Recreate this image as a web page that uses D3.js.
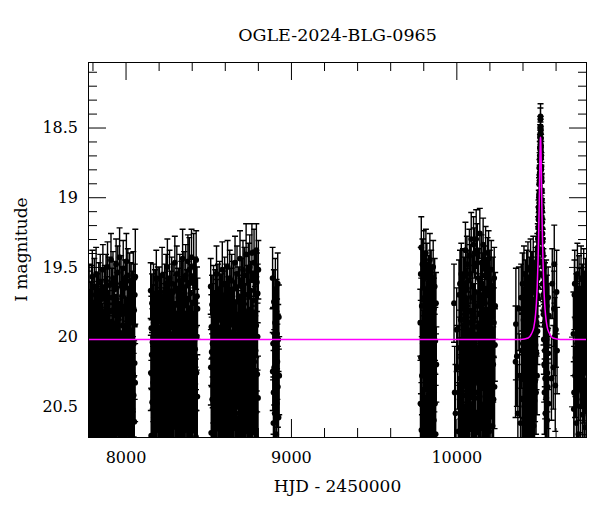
<!DOCTYPE html>
<html>
<head>
<meta charset="utf-8">
<script src="https://cdn.jsdelivr.net/npm/d3@7"></script>
<style>
  body { margin: 0; background: #fff; }
</style>
</head>
<body>
<div id="chart"></div>
<script>
// photometry: [HJD - 2450000, I mag, error]
var season1 = [[7774,20.12,.25],[7775,19.74,.21],[7777,20.48,.31],[7778,20.03,.24],[7780,19.68,.20],[7782,20.35,.28],[7783,20.86,.35],[7785,19.92,.23],[7786,20.21,.27],[7788,20.57,.32],
[7789,19.83,.22],[7791,20.15,.26],[7792,20.66,.33],[7794,19.70,.21],[7796,20.29,.28],[7797,20.01,.24],[7799,19.57,.19],[7800,20.43,.30],[7802,20.78,.35],[7803,19.97,.23],
[7805,20.09,.25],[7807,20.52,.31],[7808,19.79,.22],[7810,20.24,.27],[7811,19.64,.20],[7813,20.38,.29],[7814,20.93,.36],[7816,20.06,.24],[7818,19.88,.22],[7819,20.61,.33],
[7821,20.18,.26],[7822,19.55,.19],[7824,20.45,.30],[7825,19.95,.23],[7827,20.31,.28],[7829,20.73,.34],[7830,19.76,.21],[7832,20.13,.25],[7833,20.55,.32],[7835,19.86,.22],
[7836,20.27,.27],[7838,19.67,.20],[7840,20.02,.24],[7841,20.49,.31],[7843,20.84,.35],[7844,19.91,.23],[7846,20.20,.26],[7847,19.61,.20],[7849,20.40,.29],[7851,20.68,.33],
[7852,19.81,.22],[7854,20.11,.25],[7855,20.59,.32],[7857,19.73,.21],[7858,20.33,.28],[7860,19.99,.23],[7862,20.46,.30],[7863,19.52,.18],[7865,20.23,.27],[7866,20.80,.35],
[7868,20.05,.24],[7869,19.85,.22],[7871,20.37,.29],[7873,20.64,.33],[7874,19.69,.20],[7876,20.16,.26],[7877,20.51,.31],[7879,19.94,.23],[7880,20.28,.27],[7882,19.60,.19],
[7884,20.71,.34],[7885,20.08,.25],[7887,19.78,.21],[7888,20.42,.30],[7890,20.19,.26],[7891,19.50,.18],[7893,20.55,.32],[7895,19.89,.22],[7896,20.30,.28],[7898,20.89,.36],
[7899,19.96,.23],[7901,20.25,.27],[7902,19.63,.20],[7904,20.47,.31],[7906,20.04,.24],[7907,19.82,.22],[7909,20.62,.33],[7910,20.14,.26],[7912,19.45,.19],[7913,20.36,.29],
[7915,20.76,.35],[7917,19.72,.21],[7918,20.10,.25],[7920,20.53,.31],[7921,19.90,.23],[7923,20.22,.27],[7924,19.58,.19],[7926,20.44,.30],[7928,20.82,.35],[7929,20.00,.24],
[7931,19.80,.22],[7932,20.32,.28],[7934,20.60,.33],[7935,19.66,.20],[7937,20.17,.26],[7939,20.50,.31],[7940,19.93,.23],[7942,20.26,.27],[7943,19.48,.18],[7945,20.69,.34],
[7946,20.07,.24],[7948,19.75,.21],[7950,20.41,.30],[7951,20.20,.26],[7953,19.54,.19],[7954,20.57,.32],[7956,19.87,.22],[7957,20.34,.28],[7959,20.91,.36],[7961,19.98,.23],
[7962,20.13,.25],[7964,19.43,.21],[7965,20.46,.30],[7967,20.03,.24],[7968,19.84,.22],[7970,20.65,.33],[7972,20.23,.27],[7973,19.62,.20],[7975,20.39,.29],[7976,20.75,.35],
[7978,19.71,.21],[7979,20.09,.25],[7981,20.54,.31],[7983,19.92,.23],[7984,20.29,.28],[7986,19.51,.20],[7987,20.43,.30],[7989,20.85,.35],[7990,20.01,.24],[7992,19.79,.22],
[7994,20.31,.28],[7995,20.63,.33],[7997,19.65,.20],[7998,20.18,.26],[8000,20.48,.31],[8001,19.95,.23],[8003,20.24,.27],[8005,19.46,.20],[8006,20.70,.34],[8008,20.06,.24],
[8009,19.77,.21],[8011,20.40,.29],[8012,20.15,.26],[8014,19.56,.19],[8016,20.58,.32],[8017,19.86,.22],[8019,20.35,.28],[8020,20.88,.36],[8022,19.97,.23],[8023,20.12,.25],
[8025,19.60,.20],[8027,20.45,.30],[8028,20.04,.24],[8030,19.83,.22],[8031,20.66,.33],[8033,20.21,.27],[8034,19.68,.21],[8036,20.37,.29],[8038,20.79,.35],[8039,19.74,.21],
[8041,20.10,.25],[8042,20.52,.31],[8044,19.90,.23],[8045,20.27,.27],[8047,19.59,.20],[8049,20.42,.30],[8050,20.05,.24],[8052,19.81,.22],[8053,20.61,.33],[8055,20.19,.26],
[8056,19.70,.22],[8058,20.33,.28],[8059,19.57,.34]];

var season2 = [[8152,19.67,.20],[8153,20.26,.27],[8155,20.71,.34],[8156,19.94,.23],[8158,20.13,.25],[8160,19.76,.21],[8161,20.47,.30],[8163,20.04,.24],[8164,20.88,.36],[8166,19.85,.22],
[8167,20.33,.28],[8169,19.69,.21],[8171,20.58,.32],[8172,20.17,.26],[8174,19.91,.23],[8175,20.40,.29],[8177,20.79,.35],[8178,19.73,.21],[8180,20.09,.25],[8182,20.52,.31],
[8183,19.98,.23],[8185,20.23,.27],[8186,19.58,.20],[8188,20.44,.30],[8190,20.67,.34],[8191,19.82,.22],[8193,20.15,.26],[8194,20.36,.29],[8196,19.71,.21],[8197,20.02,.24],
[8199,20.61,.33],[8201,19.89,.22],[8202,20.28,.27],[8204,20.84,.35],[8205,19.70,.20],[8207,20.19,.26],[8209,20.49,.31],[8210,19.96,.23],[8212,20.07,.25],[8213,19.78,.21],
[8215,20.38,.29],[8217,20.73,.34],[8218,19.87,.22],[8220,20.25,.27],[8221,19.56,.20],[8223,20.55,.32],[8225,20.11,.25],[8226,19.93,.23],[8228,20.42,.30],[8229,20.90,.36],
[8231,19.75,.21],[8232,20.03,.24],[8234,20.31,.28],[8236,19.68,.20],[8237,20.63,.33],[8239,20.16,.26],[8240,19.84,.22],[8242,20.46,.30],[8244,20.00,.24],[8245,19.62,.21],
[8247,20.76,.35],[8248,20.21,.27],[8250,19.92,.23],[8252,20.35,.28],[8253,19.50,.20],[8255,20.53,.32],[8256,20.08,.25],[8258,19.80,.22],[8259,20.41,.30],[8261,20.69,.34],
[8263,19.97,.23],[8264,20.14,.26],[8266,19.58,.20],[8267,20.29,.28],[8269,20.86,.35],[8271,19.88,.22],[8272,20.05,.24],[8274,20.57,.32],[8275,19.74,.21],[8277,20.24,.27],
[8279,19.62,.19],[8280,20.43,.30],[8282,20.12,.25],[8283,19.90,.23],[8285,20.65,.33],[8286,20.32,.28],[8288,19.68,.20],[8290,20.01,.24],[8291,20.50,.31],[8293,20.81,.35],
[8294,19.83,.22],[8296,20.18,.26],[8298,19.47,.19],[8299,20.37,.29],[8301,19.99,.23],[8302,20.60,.33],[8304,20.10,.25],[8305,19.77,.21],[8307,20.45,.30],[8309,20.27,.27],
[8310,19.55,.20],[8312,20.92,.36],[8313,20.06,.24],[8315,19.86,.22],[8316,20.39,.29],[8318,20.70,.34],[8320,19.72,.21],[8321,20.20,.26],[8323,20.54,.32],[8324,19.95,.23],
[8326,20.13,.25],[8328,19.60,.19],[8329,20.34,.28],[8331,20.78,.35],[8332,19.81,.22],[8334,20.03,.24],[8335,20.48,.31],[8337,19.66,.20],[8339,20.22,.27],[8340,20.62,.33],
[8342,19.91,.23],[8343,20.09,.25],[8345,19.44,.21],[8347,20.42,.30],[8348,20.85,.35],[8350,19.78,.21],[8351,20.16,.26],[8353,20.30,.28],[8354,19.59,.20],[8356,20.56,.32],
[8358,20.00,.24],[8359,19.85,.22],[8361,20.67,.34],[8362,20.25,.27],[8364,19.56,.22],[8366,20.38,.29],[8367,20.07,.25],[8369,19.73,.21],[8370,20.51,.31],[8372,20.89,.36],
[8373,19.94,.23],[8375,20.19,.26],[8377,19.46,.19],[8378,20.44,.30],[8380,20.11,.25],[8381,19.82,.22],[8383,20.64,.33],[8385,20.28,.27],[8386,19.52,.23],[8388,20.02,.24],
[8389,20.74,.35],[8391,19.69,.21],[8393,20.35,.28],[8394,20.14,.26],[8396,19.89,.22],[8397,20.58,.32],[8399,19.43,.20],[8401,20.23,.27],[8402,20.47,.30],[8404,19.97,.23],
[8405,20.81,.35],[8407,19.76,.21],[8408,20.06,.24],[8410,20.40,.29],[8412,19.50,.24],[8413,20.17,.26],[8415,20.60,.33],[8416,19.87,.22],[8418,20.31,.28],[8420,19.63,.20],
[8421,20.09,.25],[8423,20.53,.31],[8424,19.93,.23],[8426,20.72,.34],[8427,19.45,.21],[8429,20.26,.27],[8431,20.00,.24],[8432,19.71,.21],[8434,20.43,.30],[8435,19.80,.22]];

var season3 = [[8515,19.64,.20],[8516,20.22,.27],[8518,20.69,.34],[8519,19.93,.23],[8521,20.11,.25],[8523,19.77,.21],[8524,20.45,.30],[8526,20.05,.24],[8527,20.87,.36],[8529,19.84,.22],
[8530,20.34,.28],[8532,19.70,.21],[8534,20.56,.32],[8535,20.16,.26],[8537,19.90,.23],[8538,20.39,.29],[8540,20.78,.35],[8542,19.73,.21],[8543,20.08,.25],[8545,20.51,.31],
[8546,19.97,.23],[8548,20.24,.27],[8550,19.55,.20],[8551,20.43,.30],[8553,20.66,.34],[8554,19.81,.22],[8556,20.14,.26],[8558,20.37,.29],[8559,19.68,.20],[8561,20.01,.24],
[8562,20.62,.33],[8564,19.88,.22],[8566,20.27,.27],[8567,20.83,.35],[8569,19.66,.20],[8570,20.18,.26],[8572,20.48,.31],[8574,19.95,.23],[8575,20.06,.25],[8577,19.76,.21],
[8578,20.36,.29],[8580,20.74,.34],[8582,19.86,.22],[8583,20.26,.27],[8585,19.52,.20],[8586,20.54,.32],[8588,20.12,.25],[8590,19.92,.23],[8591,20.41,.30],[8593,20.91,.36],
[8594,19.74,.21],[8596,20.03,.24],[8598,20.30,.28],[8599,19.62,.19],[8601,20.64,.33],[8602,20.15,.26],[8604,19.83,.22],[8606,20.47,.30],[8607,19.99,.23],[8609,19.69,.21],
[8610,20.77,.35],[8612,20.20,.26],[8614,19.91,.23],[8615,20.35,.28],[8617,19.50,.19],[8618,20.52,.31],[8620,20.09,.25],[8622,19.79,.22],[8623,20.42,.30],[8625,20.70,.34],
[8626,19.96,.23],[8628,20.13,.26],[8630,19.58,.20],[8631,20.29,.28],[8633,20.85,.35],[8634,19.87,.22],[8636,20.04,.24],[8638,20.58,.32],[8639,19.72,.21],[8641,20.23,.27],
[8642,19.60,.19],[8644,20.44,.30],[8646,20.10,.25],[8647,19.89,.23],[8649,20.65,.33],[8650,20.32,.28],[8652,19.66,.20],[8654,20.00,.24],[8655,20.50,.31],[8657,20.80,.35],
[8658,19.82,.22],[8660,20.17,.26],[8662,19.47,.19],[8663,20.38,.29],[8665,19.98,.23],[8666,20.61,.33],[8668,20.11,.25],[8670,19.75,.21],[8671,20.46,.30],[8673,20.25,.27],
[8674,19.55,.20],[8676,20.93,.36],[8678,20.07,.24],[8679,19.85,.22],[8681,20.40,.29],[8682,20.71,.34],[8684,19.71,.21],[8686,20.21,.26],[8687,20.55,.32],[8689,19.94,.23],
[8690,20.14,.25],[8692,19.44,.20],[8694,20.33,.28],[8695,20.79,.35],[8697,19.80,.22],[8698,20.02,.24],[8700,20.49,.31],[8702,19.64,.20],[8703,20.22,.27],[8705,20.63,.33],
[8706,19.90,.23],[8708,20.08,.25],[8710,19.52,.21],[8711,20.43,.30],[8713,20.86,.35],[8714,19.77,.21],[8716,20.16,.26],[8718,20.31,.28],[8719,19.56,.20],[8721,20.57,.32],
[8722,20.01,.24],[8724,19.84,.22],[8726,20.68,.34],[8727,20.26,.27],[8729,19.41,.22],[8730,20.37,.29],[8732,20.06,.25],[8734,19.70,.21],[8735,20.52,.31],[8737,20.88,.36],
[8738,19.93,.23],[8740,20.19,.26],[8742,19.53,.20],[8743,20.45,.30],[8745,20.12,.25],[8746,19.81,.22],[8748,20.65,.33],[8750,20.28,.27],[8751,19.50,.23],[8753,20.03,.24],
[8754,20.75,.35],[8756,19.67,.21],[8758,20.36,.28],[8759,20.15,.26],[8761,19.88,.22],[8762,20.59,.32],[8764,19.40,.21],[8766,20.24,.27],[8767,20.47,.30],[8769,19.96,.23],
[8770,20.82,.35],[8772,19.74,.21],[8774,20.05,.24],[8775,20.41,.29],[8777,19.47,.24],[8778,20.18,.26],[8780,20.61,.33],[8782,19.86,.22],[8783,20.30,.28],[8785,19.58,.20],
[8786,20.10,.25],[8788,20.54,.31],[8790,19.92,.23],[8791,19.38,.19],[8793,20.73,.34],[8794,19.61,.21],[8796,20.27,.27],[8798,20.00,.24],[8799,19.69,.21],[8801,20.44,.30],[8803,19.52,.21]];

var season4 = [[8889,19.58,.22],[8890,20.25,.28],[8892,20.05,.26],[8894,20.62,.33],[8895,20.40,.30],[8897,19.75,.23],[8899,20.22,.27],[8900,20.85,.36],[8902,20.55,.32],[8904,19.90,.24],
[8906,19.66,.22],[8907,20.32,.29],[8909,20.10,.26],[8911,20.70,.34],[8913,19.82,.23],[8914,20.48,.31],[8916,19.98,.25],[8918,20.18,.27],[8920,19.62,.22],[8921,20.36,.29],
[8923,20.02,.25],[8925,20.58,.33],[8927,19.86,.23],[8929,20.28,.28]];

var season5 = [[9782,19.90,.24],[9783,20.48,.31],[9785,19.55,.19],[9786,20.15,.26],[9788,19.36,.22],[9789,20.67,.34],[9791,19.78,.22],[9792,20.28,.28],[9794,20.86,.36],[9795,19.48,.18],
[9797,20.05,.24],[9798,20.72,.35],[9800,19.65,.20],[9801,20.38,.29],[9803,19.42,.18],[9804,19.98,.23],[9806,20.57,.32],[9807,19.72,.21],[9809,20.21,.27],[9810,19.58,.19],
[9812,20.44,.31],[9813,19.88,.23],[9815,20.11,.25],[9816,19.40,.17],[9818,20.80,.35],[9819,19.82,.22],[9821,20.25,.27],[9822,19.52,.19],[9824,20.62,.33],[9825,20.00,.24],
[9827,19.68,.21],[9828,20.33,.29],[9830,19.92,.23],[9831,20.52,.31],[9833,19.62,.20],[9834,20.14,.25],[9836,20.90,.36],[9837,19.85,.23],[9839,20.40,.30],[9840,19.45,.19],
[9842,20.08,.25],[9843,20.68,.34],[9845,19.75,.22],[9846,20.30,.28],[9848,19.57,.19],[9849,19.96,.23],[9851,20.55,.32],[9852,20.18,.26],[9854,19.70,.21],[9855,20.76,.35],
[9857,19.88,.23],[9858,20.42,.30],[9860,19.50,.19],[9862,20.10,.25],[9864,20.60,.33],[9865,19.80,.22],[9867,20.26,.28],[9869,19.64,.20],[9871,20.48,.31],[9873,20.03,.24],
[9875,20.70,.35],[9877,19.76,.22],[9879,20.20,.27]];

var season6 = [[9986,19.76,.28],[9990,20.40,.33],[9995,20.55,.35],[10002,19.95,.30],[10008,20.22,.30],[10013,20.68,.35],[10016,19.70,.25],[10018,20.08,.27],[10020,20.45,.32],[10022,19.62,.24],
[10024,20.30,.29],[10025,20.82,.36],[10027,19.88,.25],[10029,20.15,.27],[10030,19.55,.22],[10032,20.58,.33],[10034,20.02,.26],[10035,19.80,.24],[10037,20.36,.30],[10039,20.74,.35],
[10040,19.58,.21],[10042,20.20,.27],[10044,19.92,.25],[10045,20.50,.32],[10047,19.66,.23],[10049,20.10,.26],[10050,20.88,.36],[10052,19.84,.24],[10054,20.42,.31],[10055,19.38,.20],
[10057,20.26,.28],[10059,20.63,.34],[10060,19.74,.23],[10062,20.04,.26],[10064,19.48,.20],[10065,20.55,.33],[10067,19.96,.25],[10069,20.33,.29],[10070,19.60,.22],[10072,20.78,.35],
[10074,20.12,.26],[10075,19.82,.24],[10077,20.47,.31],[10079,19.42,.19],[10080,20.22,.28],[10082,20.66,.34],[10084,19.90,.25],[10085,19.55,.21],[10087,20.38,.30],[10089,20.06,.26],
[10090,19.30,.19],[10092,20.84,.36],[10094,19.72,.23],[10095,20.18,.27],[10097,20.52,.32],[10099,19.64,.22],[10100,19.98,.25],[10102,20.30,.29],[10104,19.34,.20],[10105,20.70,.35],
[10107,19.86,.24],[10109,20.14,.27],[10110,19.40,.18],[10112,20.44,.31],[10114,20.00,.25],[10115,19.68,.22],[10117,20.60,.33],[10119,20.25,.28],[10120,19.30,.21],[10122,20.90,.36],
[10124,19.93,.25],[10125,20.08,.26],[10127,19.38,.19],[10129,20.40,.30],[10130,19.78,.23],[10132,20.56,.33],[10134,20.16,.27],[10135,19.58,.21],[10137,20.34,.29],[10139,20.76,.35],
[10140,19.84,.24],[10142,19.26,.18],[10144,20.03,.26],[10145,20.48,.32],[10147,19.70,.23],[10149,20.21,.28],[10150,20.65,.34],[10152,19.47,.20],[10154,19.95,.25],[10155,20.37,.30],
[10157,19.62,.22],[10159,20.86,.36],[10160,20.11,.26],[10162,19.34,.19],[10164,20.52,.32],[10165,19.88,.24],[10167,20.28,.29],[10169,19.56,.21],[10170,20.72,.35],[10172,20.05,.26],
[10174,19.76,.23],[10175,20.43,.31],[10177,19.40,.19],[10179,20.18,.27],[10180,20.60,.33],[10182,19.92,.25],[10184,19.66,.22],[10185,20.33,.29],[10187,20.80,.35],[10189,19.50,.21],
[10190,20.08,.26],[10192,20.46,.31],[10194,19.81,.24],[10195,19.44,.20],[10197,20.24,.28],[10199,20.68,.34],[10200,19.97,.25],[10202,19.60,.22],[10204,20.38,.30],[10205,20.14,.27],
[10207,19.74,.23],[10209,20.56,.33],[10211,19.52,.21],[10213,20.02,.26],[10215,20.30,.29],[10217,19.86,.24],[10219,20.64,.34],[10221,19.65,.22],[10223,20.20,.27],[10225,20.45,.31],
[10227,19.90,.25],[10229,19.58,.22],[10231,20.36,.30],[10233,20.06,.26],[10235,19.78,.24]];

var season7 = [[10358,20.18,.40],[10360,19.91,.40],[10366,20.14,.36],[10372,20.55,.35],[10378,19.80,.30],[10383,20.28,.30],[10388,20.62,.34],[10392,19.72,.24],[10395,20.10,.27],[10398,20.45,.32],
[10400,19.62,.22],[10402,20.05,.25],[10404,20.78,.35],[10406,19.88,.23],[10407,20.30,.29],[10409,19.55,.20],[10411,20.50,.32],[10412,20.02,.25],[10414,19.76,.22],[10416,20.66,.34],
[10417,20.22,.27],[10419,19.66,.21],[10420,20.40,.30],[10422,19.95,.24],[10424,20.85,.36],[10425,19.58,.20],[10427,20.14,.26],[10428,20.55,.32],[10430,19.84,.23],[10432,20.34,.29],
[10433,19.52,.20],[10435,20.70,.35],[10436,20.06,.25],[10438,19.78,.22],[10440,20.44,.31],[10441,20.20,.27],[10443,19.64,.21],[10444,20.60,.33],[10446,19.92,.24],[10448,20.28,.28],
[10449,19.50,.20],[10451,20.10,.26],[10452,20.75,.35],[10454,19.86,.23],[10456,20.38,.30],[10457,19.60,.21],[10459,20.02,.25],[10460,20.52,.32],[10462,19.74,.22],[10464,20.24,.28],
[10465,19.47,.19],[10467,20.64,.34],[10468,19.96,.24],[10470,20.16,.27],[10472,19.68,.21],[10473,20.46,.31],[10475,19.85,.23],[10476,20.32,.29],[10478,19.56,.20],[10479,20.06,.25],
[10481,19.76,.22],[10482,20.40,.30],[10484,19.64,.21],[10485,20.12,.26],[10486,19.90,.24],[10487,19.52,.20],[10488,20.28,.28],[10489,19.70,.22],[10490,19.45,.19],[10491,19.96,.24],
[10492,19.58,.20],[10492.5,19.36,.17],[10493,19.72,.21],[10493.5,19.44,.18],[10494,19.30,.16],[10494.5,19.55,.19],[10495,19.38,.17],[10495.5,19.22,.15],[10496,19.47,.18],[10496.5,19.30,.16],
[10497,19.16,.14],[10497.5,19.40,.17],[10498,19.26,.15],[10498.5,19.08,.13],[10499,19.32,.16],[10499.5,19.14,.14],[10500,18.98,.12],[10500.5,19.20,.14],[10501,19.04,.13],[10501.5,18.90,.11],
[10502,19.12,.13],[10502.5,18.84,.11],[10503,18.96,.12],[10503.5,18.78,.10],[10504,18.88,.11],[10504.5,18.70,.10],[10505,18.82,.10],[10505.5,18.64,.09],[10506,18.74,.09],[10506.5,18.56,.08],
[10507,18.66,.09],[10507.5,18.50,.08],[10508,18.60,.08],[10508.4,18.44,.08],[10508.8,18.54,.08],[10509.2,18.42,.09],[10509.6,18.50,.08],[10510,18.62,.08],[10510.5,18.52,.08],[10511,18.66,.09],
[10511.5,18.58,.09],[10512,18.72,.09],[10512.5,18.64,.09],[10513,18.80,.10],[10513.5,18.70,.10],[10514,18.88,.11],[10514.5,18.78,.10],[10515,18.96,.12],[10515.5,18.86,.11],[10516,19.06,.12],
[10516.5,18.95,.12],[10517,19.14,.13],[10517.5,19.02,.13],[10518,19.22,.14],[10518.5,19.10,.13],[10519,19.30,.15],[10519.5,19.18,.14],[10520,19.38,.16],[10520.5,19.26,.15],[10521,19.46,.17],
[10521.5,19.32,.16],[10522,19.55,.18],[10522.5,19.40,.17],[10523,19.62,.19],[10524,19.48,.18],[10525,19.70,.20],[10526,19.56,.19],[10527,19.84,.22],[10528,19.62,.20],[10529,20.02,.25],
[10530,19.72,.21],[10531,20.20,.27],[10532,19.80,.22],[10533,20.40,.30],[10534,19.92,.24],[10535,20.10,.26],[10536,19.68,.21],[10537,20.30,.29],[10538,20.55,.33],
[10540,19.88,.23],[10541,20.18,.27],[10543,19.66,.21],[10544,20.44,.31],[10546,20.02,.25],[10547,19.78,.22],[10549,20.60,.34],[10550,20.26,.28],[10552,19.95,.24],[10553,20.36,.30],
[10555,19.72,.22],[10556,20.12,.26],[10558,20.48,.32],[10560,19.85,.23],[10575,20.30,.30],[10580,19.62,.25],[10586,20.22,.30],[10590,19.80,.27],[10592,19.48,.28],[10595,20.00,.28],
[10598,20.35,.33],[10602,19.95,.27],[10606,19.68,.30],[10609,20.10,.31]];

var season8 = [[10708,19.98,.30],[10710,20.52,.34],[10712,20.40,.33],[10714,19.70,.25],[10716,19.62,.24],[10718,20.28,.30],[10720,20.15,.28],[10722,19.88,.26],[10724,19.80,.25],[10726,20.62,.35],
[10728,20.45,.34],[10730,20.05,.27],[10732,19.55,.22],[10734,20.22,.29],[10736,19.92,.26],[10738,20.70,.36],[10740,20.30,.30],[10742,19.66,.24],[10744,19.75,.24],[10746,20.10,.28],
[10748,19.90,.26],[10750,20.38,.31],[10752,20.50,.33],[10754,19.58,.23],[10756,19.84,.25],[10758,20.20,.29],[10760,20.02,.27],[10762,19.72,.24],[10764,20.56,.34],[10766,19.95,.26],
[10768,20.32,.30],[10770,19.60,.23],[10772,20.12,.28],[10774,20.44,.32],[10776,19.78,.25],[10778,20.65,.35],[10780,20.00,.27],[10782,19.68,.24],[10784,20.26,.29],[10786,19.86,.25],[10788,20.48,.33]];

// point-lens model curve
var modelTime = [7773, 10300, 10389, 10434, 10454, 10469, 10479, 10484, 10489, 10494, 10497, 10499, 10501, 10503, 10504.5, 10506, 10507, 10508, 10509, 10510, 10511, 10512, 10513.5, 10515, 10517, 10519, 10521, 10524, 10529, 10534, 10539, 10549, 10564, 10584, 10629, 10790];
var modelMag  = [20.02, 20.02, 20.02, 20.01, 19.98, 19.93, 19.84, 19.76, 19.64, 19.46, 19.31, 19.19, 19.06, 18.90, 18.78, 18.68, 18.62, 18.58, 18.57, 18.58, 18.62, 18.68, 18.78, 18.90, 19.06, 19.19, 19.31, 19.46, 19.64, 19.76, 19.84, 19.93, 19.98, 20.01, 20.02, 20.02];

// tick labels
var xMajorTicks = [8000, 9000, 10000];
var yMajorTicks = [18.5, 19, 19.5, 20, 20.5];

var titleText = "OGLE-2024-BLG-0965";
var xLabel = "HJD - 2450000";
var yLabel = "I magnitude";

var width = 600, height = 512;
var margin = {top: 62, right: 13, bottom: 75, left: 88};
var fontFamily = "'DejaVu Serif', serif";

var x = d3.scaleLinear()
  .domain([7773, 10790])
  .range([margin.left, width - margin.right]);

var y = d3.scaleLinear()
  .domain([18.03, 20.72])
  .range([margin.top, height - margin.bottom]);

var svg = d3.select("#chart").append("svg")
  .attr("width", width)
  .attr("height", height);

svg.append("clipPath").attr("id", "clip")
  .append("rect")
    .attr("x", margin.left)
    .attr("y", margin.top)
    .attr("width", width - margin.left - margin.right)
    .attr("height", height - margin.top - margin.bottom);

var plot = svg.append("g").attr("clip-path", "url(#clip)");

var points = [season1, season2, season3, season4, season5, season6, season7, season8].flat();

// error bars with caps
var capW = 3;
var errPath = points.map(function(d) {
  var px = x(d[0]), y1 = y(d[1] - d[2]), y2 = y(d[1] + d[2]);
  return "M" + px + "," + y1 + "V" + y2 +
    "M" + (px - capW) + "," + y1 + "H" + (px + capW) +
    "M" + (px - capW) + "," + y2 + "H" + (px + capW);
}).join("");

plot.append("path")
  .attr("d", errPath)
  .attr("fill", "none")
  .attr("stroke", "#000")
  .attr("stroke-width", 1.4);

plot.selectAll("circle")
  .data(points)
  .enter()
  .append("circle")
    .attr("cx", function(d) { return x(d[0]); })
    .attr("cy", function(d) { return y(d[1]); })
    .attr("r", 2.9)
    .attr("fill", "#000");

// model
var line = d3.line()
  .x(function(d, i) { return x(modelTime[i]); })
  .y(function(d) { return y(d); })
  .curve(d3.curveMonotoneX);

plot.append("path")
  .attr("d", line(modelMag))
  .attr("fill", "none")
  .attr("stroke", "#ff00ff")
  .attr("stroke-width", 1.5);

// axes, ticks pointing inward on all four sides
var xMinor = d3.range(7800, 10800, 200).filter(function(v) { return xMajorTicks.indexOf(v) < 0; });
var yMinor = d3.range(181, 208).map(function(v) { return v / 10; })
  .filter(function(v) { return yMajorTicks.indexOf(v) < 0; });

function styleAxis(g) {
  g.select(".domain").remove();
  g.selectAll("line").attr("stroke", "#000");
  g.selectAll("text")
    .attr("font-family", fontFamily)
    .attr("font-size", 16)
    .attr("fill", "#000");
}

var bottom = height - margin.bottom, right = width - margin.right;

svg.append("g").attr("transform", "translate(0," + bottom + ")")
  .call(d3.axisBottom(x).tickValues(xMajorTicks).tickSizeInner(-18).tickSizeOuter(0)
    .tickPadding(15).tickFormat(d3.format("d")))
  .call(styleAxis);
svg.append("g").attr("transform", "translate(0," + bottom + ")")
  .call(d3.axisBottom(x).tickValues(xMinor).tickSizeInner(-9).tickSizeOuter(0).tickFormat(""))
  .call(styleAxis);
svg.append("g").attr("transform", "translate(0," + margin.top + ")")
  .call(d3.axisTop(x).tickValues(xMajorTicks).tickSizeInner(-18).tickSizeOuter(0).tickFormat(""))
  .call(styleAxis);
svg.append("g").attr("transform", "translate(0," + margin.top + ")")
  .call(d3.axisTop(x).tickValues(xMinor).tickSizeInner(-9).tickSizeOuter(0).tickFormat(""))
  .call(styleAxis);

svg.append("g").attr("transform", "translate(" + margin.left + ",0)")
  .call(d3.axisLeft(y).tickValues(yMajorTicks).tickSizeInner(-18).tickSizeOuter(0)
    .tickPadding(10).tickFormat(function(d) { return String(d); }))
  .call(styleAxis);
svg.append("g").attr("transform", "translate(" + margin.left + ",0)")
  .call(d3.axisLeft(y).tickValues(yMinor).tickSizeInner(-9).tickSizeOuter(0).tickFormat(""))
  .call(styleAxis);
svg.append("g").attr("transform", "translate(" + right + ",0)")
  .call(d3.axisRight(y).tickValues(yMajorTicks).tickSizeInner(-18).tickSizeOuter(0).tickFormat(""))
  .call(styleAxis);
svg.append("g").attr("transform", "translate(" + right + ",0)")
  .call(d3.axisRight(y).tickValues(yMinor).tickSizeInner(-9).tickSizeOuter(0).tickFormat(""))
  .call(styleAxis);

// frame
svg.append("rect")
  .attr("x", margin.left + 0.5)
  .attr("y", margin.top + 0.5)
  .attr("width", width - margin.left - margin.right - 1)
  .attr("height", height - margin.top - margin.bottom)
  .attr("fill", "none")
  .attr("stroke", "#000")
  .attr("stroke-width", 1);

// titles
svg.append("text")
  .attr("x", (margin.left + right) / 2)
  .attr("y", 41)
  .attr("text-anchor", "middle")
  .attr("font-family", fontFamily)
  .attr("font-size", 17.5)
  .text(titleText);

svg.append("text")
  .attr("x", (margin.left + right) / 2)
  .attr("y", 492)
  .attr("text-anchor", "middle")
  .attr("font-family", fontFamily)
  .attr("font-size", 17)
  .text(xLabel);

svg.append("text")
  .attr("transform", "translate(27," + (margin.top + bottom) / 2 + ") rotate(-90)")
  .attr("text-anchor", "middle")
  .attr("font-family", fontFamily)
  .attr("font-size", 17)
  .text(yLabel);
</script>
</body>
</html>
